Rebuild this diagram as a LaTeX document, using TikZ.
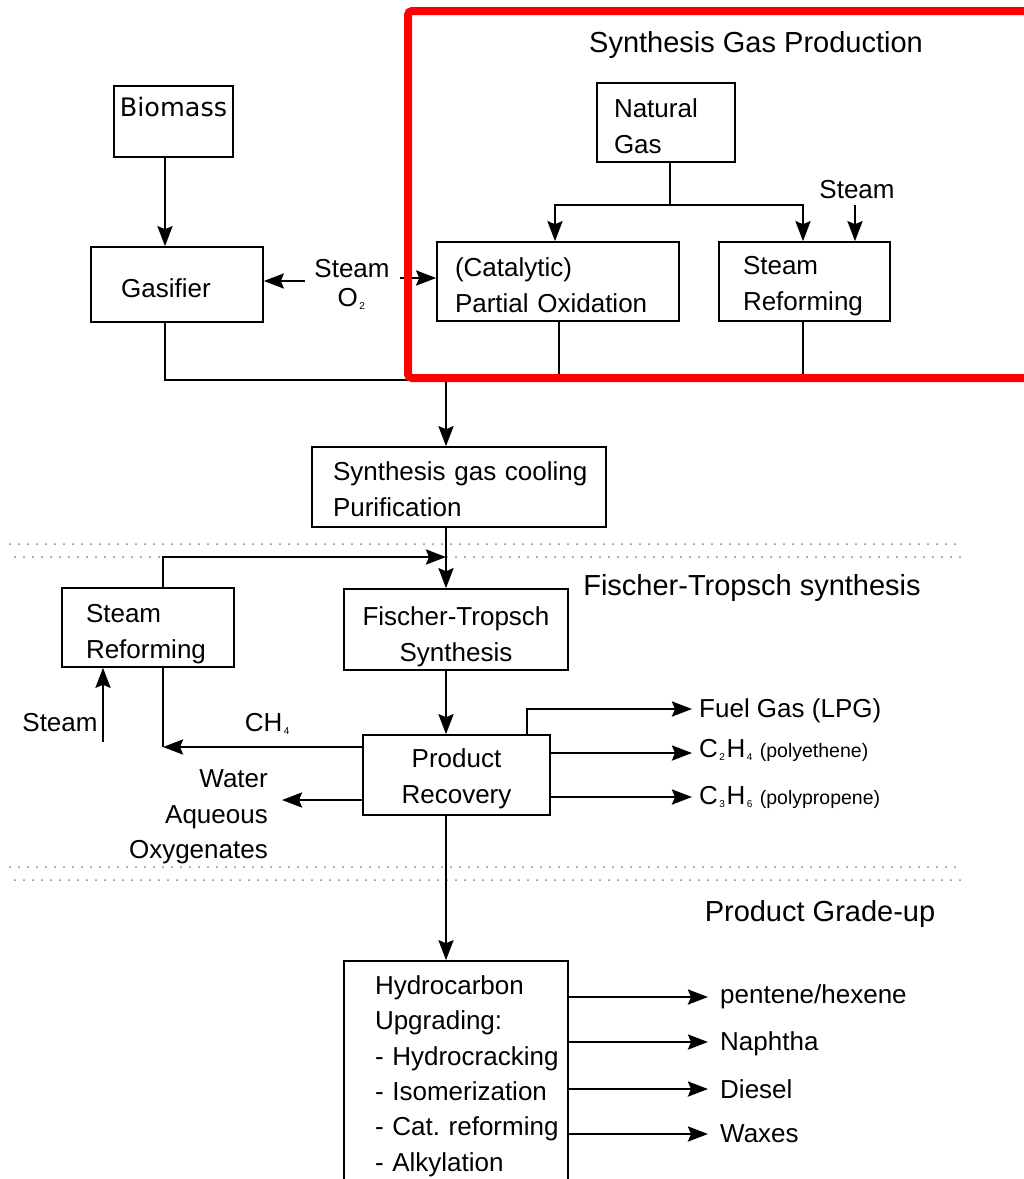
\documentclass[tikz,border=0pt]{standalone}
\usepackage{fontspec}
\setmainfont{Liberation Sans}
\newfontfamily\dejavu{DejaVu Sans}
\usetikzlibrary{arrows.meta}
\newcommand\bx{\fontsize{26}{36}\selectfont}
\newcommand\tl{\fontsize{29}{34}\selectfont}
\newcommand\sbx[1]{\kern1.5pt\raisebox{-3pt}{\fontsize{10}{10}\selectfont #1}\kern1.5pt}
\newcommand\dn[1]{\rule{0pt}{#1pt}}
\hyphenpenalty=10000
\exhyphenpenalty=10000
\lefthyphenmin=64
\begin{document}
\begin{tikzpicture}[x=1pt,y=-1pt,
  box/.style={draw, line width=1.6pt, inner sep=0pt, font=\bx},
  arr/.style={line width=2.6pt, -{Stealth[length=20pt,width=15pt,inset=3pt]}},
  conn/.style={line width=2.6pt},
  lbl/.style={inner sep=0pt, font=\bx},
  ttl/.style={inner sep=0pt, font=\tl},
  dots/.style={line width=2pt, black!50, dash pattern=on 0pt off 9pt, line cap=round}]
\useasboundingbox (0,0) rectangle (1024,1179);

% boxes
\node[box, minimum width=119, minimum height=71, font=\dejavu\fontsize{25.5}{30}\selectfont] (bio) at (173.5,121.5) {\raisebox{29pt}{Biomass}};
\node[box, minimum width=172, minimum height=75] (gas) at (177,284.5) {\hspace*{-22pt}\dn{27}Gasifier};
\node[box, minimum width=242, minimum height=79, text width=206, align=left] (pox) at (558,281.5) {\dn{27}(Catalytic)\\Partial~Oxidation};
\node[box, minimum width=171, minimum height=79, text width=123, align=left] (sr1) at (804.5,281.5) {\dn{27}Steam\\Reforming};
\node[box, minimum width=138, minimum height=79, text width=104, align=left] (ng) at (666,122.5) {\dn{27}Natural\\Gas};
\node[box, minimum width=294, minimum height=80, text width=252, align=left] (syn) at (459,487) {\dn{23}Synthesis~gas~cooling\\Purification};
\node[box, minimum width=224, minimum height=81, align=center] (ft) at (456,629.5) {\dn{33}Fischer-Tropsch\\Synthesis};
\node[box, minimum width=172, minimum height=79, text width=124, align=left] (sr2) at (148,627.5) {\dn{31}Steam\\Reforming};
\node[box, minimum width=187, minimum height=80, align=center] (pr) at (456.5,775) {\dn{27}Product\\Recovery};
\node[box, minimum width=224, minimum height=230, text width=162, align=left, font=\fontsize{26}{35.4}\selectfont] (hu) at (456,1076) {Hydrocarbon\\Upgrading:\\-~Hydrocracking\\-~Isomerization\\-~Cat.~reforming\\-~Alkylation};

% titles
\node[ttl, anchor=base] (t1) at (756,52.5) {Synthesis Gas Production};
\node[ttl, anchor=base] (t2) at (752,595.5) {Fischer-Tropsch synthesis};
\node[ttl, anchor=base] (t3) at (820,921) {Product Grade-up};

% labels
\node[lbl, align=center, font=\fontsize{26}{29}\selectfont] (so2) at (352,284) {Steam\\O\sbx{2}};
\node[lbl, anchor=base] (st1) at (857,198.5) {Steam};
\node[lbl, anchor=base] (st2) at (60,731.5) {Steam};
\node[lbl, anchor=base] (ch4) at (268,731) {CH\sbx{4}};
\node[lbl, anchor=east, align=right, font=\fontsize{26}{35.5}\selectfont] (wat) at (268,817) {Water\\Aqueous\\Oxygenates};
\node[lbl, anchor=base west] (fuel) at (699,717) {Fuel Gas (LPG)};
\node[lbl, anchor=base west] (c2) at (699,757) {C\sbx{2}H\sbx{4}\hspace{6pt}{\fontsize{19.5}{21}\selectfont(polyethene)}};
\node[lbl, anchor=base west] (c3) at (699,804) {C\sbx{3}H\sbx{6}\hspace{6pt}{\fontsize{19.5}{21}\selectfont(polypropene)}};
\node[lbl, anchor=base west] (o1) at (720,1003) {pentene/hexene};
\node[lbl, anchor=base west] (o2) at (720,1050) {Naphtha};
\node[lbl, anchor=base west] (o3) at (720,1098) {Diesel};
\node[lbl, anchor=base west] (o4) at (720,1142) {Waxes};

% helper coordinates
\coordinate (gx) at (165,0);
\coordinate (sL) at (305,281);
\coordinate (sR) at (400,278);
\coordinate (nj) at (670,205);
\coordinate (px) at (555,0);
\coordinate (sx) at (803,0);
\coordinate (pbx) at (559,0);
\coordinate (s1a) at (855,205);
\coordinate (cy) at (0,380);
\coordinate (mx) at (446,0);
\coordinate (rx) at (163,0);
\coordinate (ry) at (0,557);
\coordinate (s2a) at (103,742);
\coordinate (chy) at (0,747);
\coordinate (wy) at (0,800);
\coordinate (wx) at (282,0);
\coordinate (fx) at (527,0);
\coordinate (ox) at (692,0);
\coordinate (fy) at (0,709);
\coordinate (c2y) at (0,753);
\coordinate (c3y) at (0,797);
\coordinate (hx) at (708,0);
\coordinate (h1) at (0,997);
\coordinate (h2) at (0,1042);
\coordinate (h3) at (0,1089);
\coordinate (h4) at (0,1134);

% dotted separators
\draw[dots] (10,544) -- (960,544);
\draw[dots] (15,557) -- (960,557);
\draw[dots] (10,867) -- (960,867);
\draw[dots] (15,880) -- (960,880);

% connectors
\draw[arr] (bio.south -| gx) -- (gas.north -| gx);
\draw[arr] (sL) -- (sL -| gas.east);
\draw[arr] (sR) -- (sR -| pox.west);
\draw[conn] (ng.south -| nj) -- (nj);
\draw[arr] (nj) -| (pox.north -| px);
\draw[arr] (nj) -| (sr1.north -| sx);
\draw[arr] (s1a) -- (s1a |- sr1.north);
\draw[conn] (gas.south -| gx) |- (cy -| sx);
\draw[conn] (pox.south -| pbx) -- (cy -| pbx);
\draw[conn] (sr1.south -| sx) -- (cy -| sx);
\draw[arr] (cy -| mx) -- (syn.north -| mx);
\draw[arr] (syn.south -| mx) -- (ft.north -| mx);
\draw[arr] (sr2.north -| rx) |- (ry -| mx);
\draw[arr] (s2a) -- (s2a |- sr2.south);
\draw[arr] (pr.west |- chy) -- (chy -| rx);
\draw[conn] (sr2.south -| rx) -- (chy -| rx);
\draw[arr] (ft.south -| mx) -- (pr.north -| mx);
\draw[arr] (pr.west |- wy) -- (wy -| wx);
\draw[arr] (pr.north -| fx) |- (fy -| ox);
\draw[arr] (pr.east |- c2y) -- (c2y -| ox);
\draw[arr] (pr.east |- c3y) -- (c3y -| ox);
\draw[arr] (pr.south -| mx) -- (hu.north -| mx);
\draw[arr] (hu.east |- h1) -- (h1 -| hx);
\draw[arr] (hu.east |- h2) -- (h2 -| hx);
\draw[arr] (hu.east |- h3) -- (h3 -| hx);
\draw[arr] (hu.east |- h4) -- (h4 -| hx);

% red highlight frame
\draw[red, line width=8pt, rounded corners=4pt] (408,11) rectangle (1060,378);
\end{tikzpicture}
\end{document}
